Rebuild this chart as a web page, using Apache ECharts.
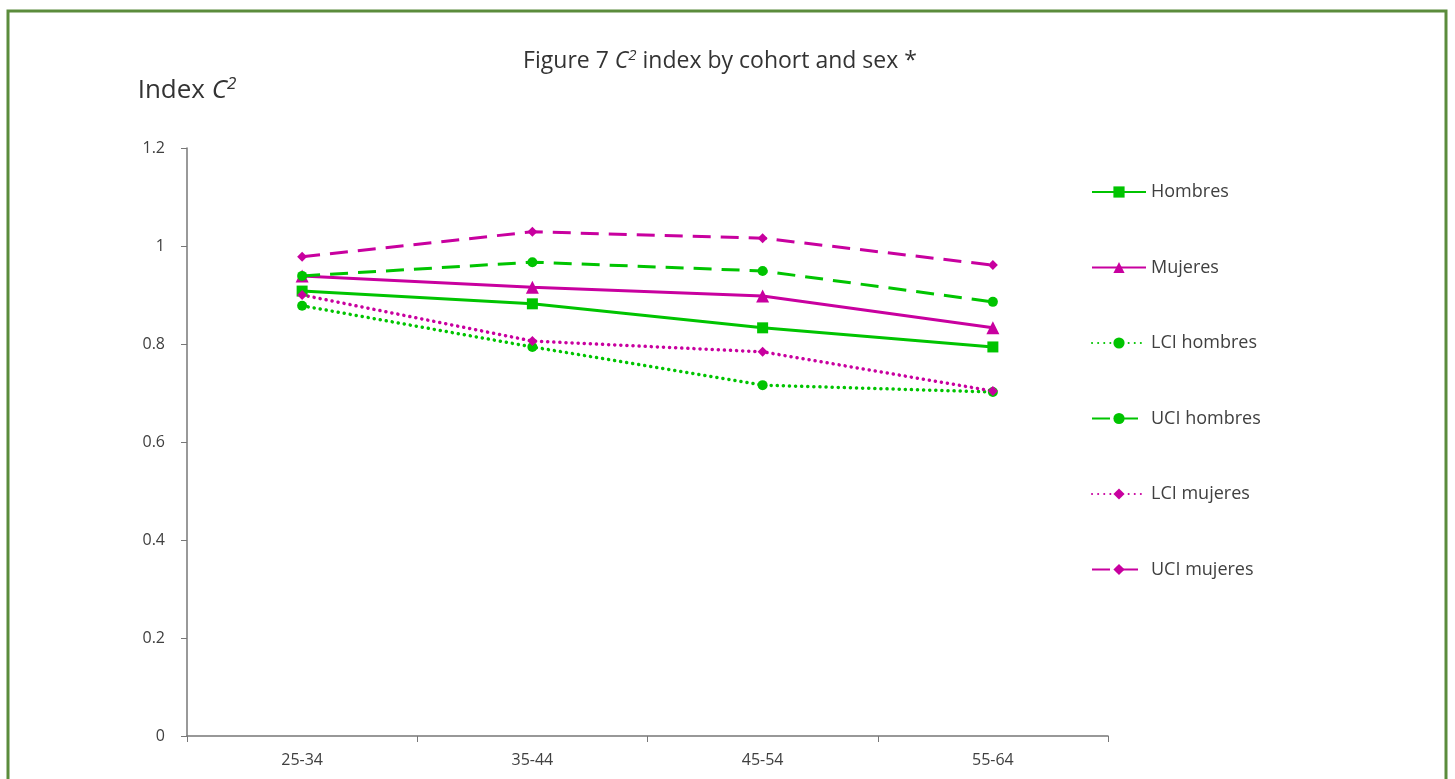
<!DOCTYPE html>
<html><head><meta charset="utf-8">
<script src="https://cdn.jsdelivr.net/npm/echarts@6/dist/echarts.min.js"></script>
<style>html,body{margin:0;padding:0;background:#fff}#c{width:1455px;height:779px}</style>
</head><body><div id="c"></div>
<script>
const categories = ['25-34', '35-44', '45-54', '55-64'];
const hombres = [0.908, 0.882, 0.833, 0.794];
const mujeres = [0.939, 0.916, 0.898, 0.833];
const lciHombres = [0.878, 0.794, 0.716, 0.702];
const uciHombres = [0.939, 0.967, 0.949, 0.886];
const lciMujeres = [0.900, 0.806, 0.784, 0.704];
const uciMujeres = [0.978, 1.029, 1.016, 0.961];
const yTicks = { min: 0, max: 1.2, interval: 0.2 };

const GREEN = '#00c400', MAG = '#c8009f';
const FONT = '"Open Sans", "Noto Sans", sans-serif';
const chart = echarts.init(document.getElementById('c'));
function s(name, data, color, symbol, size, type, width) {
  const dotted = type === 'dotted';
  return { name, type: 'line', data, symbol, symbolSize: size, showSymbol: true,
    itemStyle: { color }, lineStyle: { color, width, type: dotted ? [0.1, 6] : type, cap: dotted ? 'round' : 'butt' },
    emphasis: { disabled: true } };
}
chart.setOption({
  animation: false,
  backgroundColor: '#fff',
  graphic: [{ type: 'rect', shape: { x: 8, y: 11, width: 1438, height: 820 },
    style: { fill: 'none', stroke: '#5b8c3c', lineWidth: 3 }, silent: true }],
  title: {
    text: '{n|Figure 7 }{i|C}{s|2}{n| index by cohort and sex *}',
    left: 715, textAlign: 'center', top: 43,
    textStyle: { fontWeight: 'normal', rich: {
      n: { fontFamily: FONT, fontSize: 23, color: '#333', fontWeight: 'normal' },
      i: { fontFamily: FONT, fontSize: 23, color: '#333', fontStyle: 'italic', fontWeight: 'normal' },
      s: { fontFamily: FONT, fontSize: 15, color: '#333', fontStyle: 'italic', fontWeight: 'normal', padding: [0, 0, 11, 0] } } }
  },
  grid: { left: 187, right: 347, top: 148, bottom: 43, containLabel: false },
  legend: {
    orient: 'vertical', left: 1086, top: 178, itemWidth: 54, itemHeight: 14, itemGap: 57.5,
    textStyle: { fontFamily: FONT, fontSize: 18, color: '#404040' },
    data: ['Hombres', 'Mujeres', 'LCI hombres', 'UCI hombres', 'LCI mujeres', 'UCI mujeres']
  },
  xAxis: {
    type: 'category', data: categories, boundaryGap: true,
    axisLine: { lineStyle: { color: '#777', width: 1.5 } },
    axisTick: { show: true, length: 6, lineStyle: { color: '#777' } },
    axisLabel: { fontFamily: FONT, fontSize: 16, color: '#404040', margin: 16 }
  },
  yAxis: {
    type: 'value', min: yTicks.min, max: yTicks.max, interval: yTicks.interval,
    name: '{n|Index }{i|C}{s|2}', nameLocation: 'end', nameGap: 42,
    nameTextStyle: { rich: {
      n: { fontFamily: FONT, fontSize: 26, color: '#333' },
      i: { fontFamily: FONT, fontSize: 26, color: '#333', fontStyle: 'italic' },
      s: { fontFamily: FONT, fontSize: 17, color: '#333', fontStyle: 'italic', padding: [0, 0, 13, 0] } } },
    splitLine: { show: false },
    axisLine: { show: true, lineStyle: { color: '#777', width: 1.5 } },
    axisTick: { show: true, length: 6, lineStyle: { color: '#777' } },
    axisLabel: { fontFamily: FONT, fontSize: 16, color: '#404040', margin: 22 }
  },
  series: [
    s('Hombres', hombres, GREEN, 'rect', 11, 'solid', 3),
    s('Mujeres', mujeres, MAG, 'triangle', 13, 'solid', 3),
    s('LCI hombres', lciHombres, GREEN, 'circle', 10, 'dotted', 3.5),
    s('UCI hombres', uciHombres, GREEN, 'circle', 10, [18, 10], 3),
    s('LCI mujeres', lciMujeres, MAG, 'diamond', 10, 'dotted', 3.5),
    s('UCI mujeres', uciMujeres, MAG, 'diamond', 10, [18, 10], 3)
  ]
});
</script></body></html>
